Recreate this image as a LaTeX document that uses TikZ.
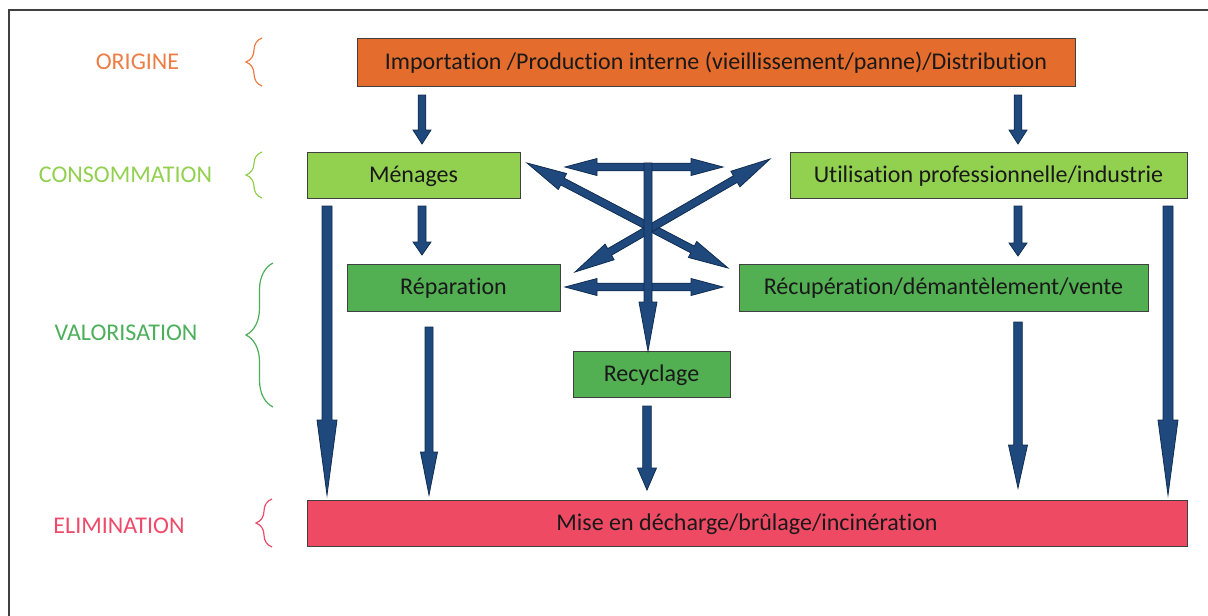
\documentclass[tikz,border=0pt]{standalone}
\usepackage{fontspec}
\setmainfont[Ligatures=NoCommon]{Carlito}
\usetikzlibrary{calc,decorations.pathreplacing}
\definecolor{orgbox}{HTML}{E46C2C}
\definecolor{orgtxt}{HTML}{ED7D44}
\definecolor{lgreen}{HTML}{92D050}
\definecolor{mgreen}{HTML}{52AF52}
\definecolor{vtxt}{HTML}{4CAF5A}
\definecolor{redbox}{HTML}{EE4A64}
\definecolor{redtxt}{HTML}{EE4A6A}
\definecolor{arrfill}{HTML}{1F497D}
\definecolor{arrline}{HTML}{102C50}
\tikzset{
  box/.style={draw=black!75, line width=0.9pt, inner sep=0pt, minimum height=46pt,
    font=\fontsize{24}{28}\selectfont, text=black!90, text height=17pt, text depth=3pt},
  lbl/.style={font=\fontsize{24}{28}\selectfont, inner sep=0pt},
  brc/.style={decorate, decoration={brace, amplitude=#1}, line width=1.2pt},
  blockarrow/.style={fill=arrfill, draw=arrline, line width=0.8pt, line join=miter},
  frame/.style={draw=black!75, line width=1.6pt}
}
\newcommand\sarr[5]{%
  \coordinate (tmph) at ($(#2)!#5!(#1)$);
  \draw[blockarrow] ($(#1)!#3!90:(#2)$) -- ($(tmph)!#3!90:(#2)$) -- ($(tmph)!#4!90:(#2)$) -- (#2)
    -- ($(tmph)!#4!-90:(#2)$) -- ($(tmph)!#3!-90:(#2)$) -- ($(#1)!#3!-90:(#2)$) -- cycle;
}
\newcommand\darr[5]{%
  \coordinate (tmpa) at ($(#1)!#5!(#2)$);
  \coordinate (tmpb) at ($(#2)!#5!(#1)$);
  \draw[blockarrow] (#1) -- ($(tmpa)!#4!90:(#2)$) -- ($(tmpa)!#3!90:(#2)$) -- ($(tmpb)!#3!-90:(#1)$)
    -- ($(tmpb)!#4!-90:(#1)$) -- (#2) -- ($(tmpb)!#4!90:(#1)$) -- ($(tmpb)!#3!90:(#1)$)
    -- ($(tmpa)!#3!-90:(#2)$) -- ($(tmpa)!#4!-90:(#2)$) -- cycle;
}
\begin{document}
\begin{tikzpicture}[x=1pt,y=-1pt]
\useasboundingbox (0,0) rectangle (1208,616);
\draw[frame] (9,620) -- (9,10) -- (1212,10);

% labels
\node[lbl, text=orgtxt] (lo) at (137.5,62) {ORIGINE};
\node[lbl, text=lgreen] (lc) at (125.5,175) {CONSOMMATION};
\node[lbl, text=vtxt] (lv) at (126,333) {VALORISATION};
\node[lbl, text=redtxt] (le) at (119,526) {ELIMINATION};

% braces
\draw[brc=16pt, draw=orgtxt] (262,86) -- (262,38);
\draw[brc=16pt, draw=lgreen] (262,198) -- (262,152);
\draw[brc=27pt, draw=vtxt] (273,407) -- (273,263);
\draw[brc=16pt, draw=redtxt] (272,547) -- (272,499);

% boxes
\node[box, fill=orgbox, minimum width=718pt, minimum height=48pt] (imp) at (716,62)
  {Importation /Production interne (vieillissement/panne)/Distribution};
\node[box, fill=lgreen, minimum width=213pt] (men) at (413.5,175) {Ménages};
\node[box, fill=lgreen, minimum width=397pt] (util) at (988.5,175) {Utilisation professionnelle/industrie};
\node[box, fill=mgreen, minimum width=213pt, minimum height=47pt] (rep) at (453.5,287.5) {Réparation};
\node[box, fill=mgreen, minimum width=409pt, minimum height=47pt] (recup) at (943.5,287.5) {Récupération/démantèlement/vente};
\node[box, fill=mgreen, minimum width=157pt] (recy) at (651.5,374) {Recyclage};
\node[box, fill=redbox, minimum width=880pt] (elim) at (747,523) {Mise en décharge/brûlage/incinération};

% arrow end points
\coordinate (a1s) at (422,95);   \coordinate (a1e) at (422,144);
\coordinate (a2s) at (1018,95);  \coordinate (a2e) at (1018,144);
\coordinate (a3s) at (422,206);  \coordinate (a3e) at (422,255);
\coordinate (a4s) at (1018,206); \coordinate (a4e) at (1018,256);
\coordinate (a5s) at (327,206);  \coordinate (a5e) at (327,495);
\coordinate (a6s) at (1168,206); \coordinate (a6e) at (1168,495);
\coordinate (a7s) at (429,327);  \coordinate (a7e) at (429,495);
\coordinate (a8s) at (1018,322); \coordinate (a8e) at (1018,488);
\coordinate (a9s) at (647,406);  \coordinate (a9e) at (647,490);
\coordinate (vs) at (648,163);   \coordinate (ve) at (648,351);
\coordinate (h1a) at (565,167);  \coordinate (h1b) at (723,167);
\coordinate (h2a) at (565,287);  \coordinate (h2b) at (723,287);
\coordinate (d1a) at (527,163);  \coordinate (d1b) at (728,268);
\coordinate (d2a) at (770,159);  \coordinate (d2b) at (575,272);

% simple arrows
\sarr{a1s}{a1e}{3.8pt}{9pt}{14pt}
\sarr{a2s}{a2e}{3.8pt}{9pt}{14pt}
\sarr{a3s}{a3e}{4pt}{9pt}{13pt}
\sarr{a4s}{a4e}{4pt}{9pt}{13pt}
\sarr{a5s}{a5e}{5pt}{10pt}{75pt}
\sarr{a6s}{a6e}{5pt}{10pt}{75pt}
\sarr{a7s}{a7e}{4pt}{8.5pt}{43pt}
\sarr{a8s}{a8e}{4.3pt}{9.5pt}{43pt}
\sarr{a9s}{a9e}{4.3pt}{9.5pt}{22pt}

% central cross
\darr{d1a}{d1b}{3.8pt}{9pt}{40pt}
\darr{d2a}{d2b}{3.8pt}{9pt}{40pt}
\darr{h1a}{h1b}{3.8pt}{8.5pt}{32pt}
\darr{h2a}{h2b}{3.8pt}{8.5pt}{32pt}
\sarr{vs}{ve}{4pt}{9pt}{49pt}
\end{tikzpicture}
\end{document}
